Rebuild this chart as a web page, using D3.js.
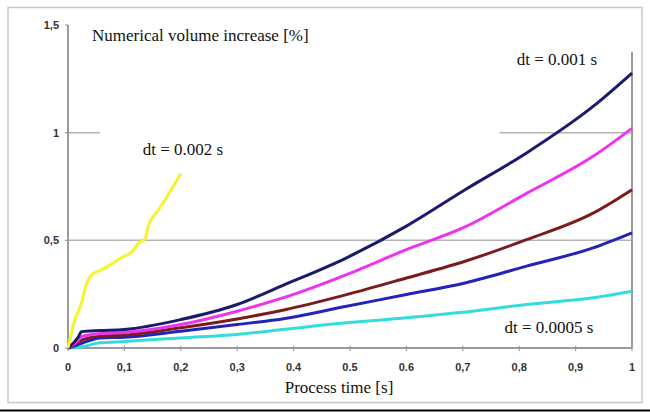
<!DOCTYPE html>
<html>
<head>
<meta charset="utf-8">
<script src="https://cdn.jsdelivr.net/npm/d3@7"></script>
<style>
  body { margin: 0; background: #fff; }
  svg { display: block; }
</style>
</head>
<body>
<div id="chart"></div>
<script>
// values (x = process time [s], y = volume increase [%])
const xTicks = [0, 0.1, 0.2, 0.3, 0.4, 0.5, 0.6, 0.7, 0.8, 0.9, 1]
const xTickLabels = ["0", "0,1", "0,2", "0,3", "0.4", "0.5", "0.6", "0,7", "0,8", "0,9", "1"]
const yTicks = [0, 0.5, 1, 1.5]
const yTickLabels = ["0", "0,5", "1", "1,5"]

const yellowX = [0, 0.012, 0.024, 0.033, 0.042, 0.057, 0.074, 0.095, 0.113, 0.125, 0.137, 0.142, 0.16, 0.175, 0.19, 0.2]
const yellowY = [0, 0.13, 0.21, 0.30, 0.34, 0.36, 0.385, 0.42, 0.447, 0.487, 0.51, 0.563, 0.64, 0.70, 0.765, 0.81]

const curveX = [0, 0.018, 0.024, 0.057, 0.1, 0.2, 0.3, 0.385, 0.494, 0.6, 0.704, 0.813, 0.931, 1]
const navyY = [0, 0.05, 0.076, 0.081, 0.086, 0.132, 0.202, 0.295, 0.419, 0.566, 0.735, 0.906, 1.122, 1.277]
const magentaY = [0, 0.035, 0.053, 0.067, 0.072, 0.109, 0.171, 0.236, 0.341, 0.457, 0.562, 0.718, 0.89, 1.02]
const brownY = [0, 0.025, 0.037, 0.055, 0.06, 0.094, 0.135, 0.178, 0.248, 0.325, 0.403, 0.503, 0.626, 0.735]
const blueY = [0, 0.016, 0.022, 0.047, 0.05, 0.078, 0.109, 0.137, 0.194, 0.248, 0.302, 0.38, 0.465, 0.535]
const cyanY = [0, 0.004, 0.006, 0.024, 0.03, 0.047, 0.063, 0.087, 0.117, 0.14, 0.167, 0.202, 0.233, 0.264]

const seriesColors = ["#1b1b6b", "#ee33ee", "#7a1c1c", "#2323b8", "#33dddd"]
const seriesValues = [navyY, magentaY, brownY, blueY, cyanY]

const width = 650, height = 412
const margin = {top: 25, right: 18, bottom: 64, left: 68}

const svg = d3.select("#chart").append("svg").attr("width", width).attr("height", height)

let x = d3.scaleLinear().domain([0, 1]).range([margin.left, width - margin.right])
let y = d3.scaleLinear().domain([0, 1.5]).range([height - margin.bottom, margin.top])

// outer frame + bottom rule
svg.append("rect").attr("x", 8).attr("y", 7.5).attr("width", 634).attr("height", 395)
    .attr("fill", "none").attr("stroke", "#c8c8c8").attr("stroke-width", 1.5)
svg.append("line").attr("x1", 0).attr("x2", width).attr("y1", 410.5).attr("y2", 410.5)
    .attr("stroke", "#000").attr("stroke-width", 2)

// grid lines (the 1-line is hidden behind the label area in the middle)
svg.append("line").attr("x1", x(0)).attr("x2", x(1)).attr("y1", y(0.5)).attr("y2", y(0.5))
    .attr("stroke", "#b4b4b4").attr("stroke-width", 1.5)
const gridOneParts = [[0, 0.057], [0.765, 1]]
svg.append("g").selectAll("line").data(gridOneParts).join("line")
    .attr("x1", d => x(d[0])).attr("x2", d => x(d[1]))
    .attr("y1", y(1)).attr("y2", y(1))
    .attr("stroke", "#b4b4b4").attr("stroke-width", 1.5)

// plot frame: left axis, bottom axis, right edge
svg.append("line").attr("x1", x(0)).attr("x2", x(0)).attr("y1", y(1.5)).attr("y2", y(0))
    .attr("stroke", "#9a9a9a").attr("stroke-width", 2)
svg.append("line").attr("x1", x(0)).attr("x2", x(1)).attr("y1", y(0)).attr("y2", y(0))
    .attr("stroke", "#9a9a9a").attr("stroke-width", 2)
svg.append("line").attr("x1", x(1)).attr("x2", x(1)).attr("y1", y(1.375)).attr("y2", y(0))
    .attr("stroke", "#9a9a9a").attr("stroke-width", 2)

// ticks
svg.append("g").selectAll("line").data(xTicks).join("line")
    .attr("x1", d => x(d)).attr("x2", d => x(d)).attr("y1", y(0) - 2).attr("y2", y(0) + 3)
    .attr("stroke", "#9a9a9a").attr("stroke-width", 1.2)
svg.append("g").selectAll("line").data(yTicks).join("line")
    .attr("x1", x(0) - 3).attr("x2", x(0)).attr("y1", d => y(d)).attr("y2", d => y(d))
    .attr("stroke", "#9a9a9a").attr("stroke-width", 1.2)

svg.append("g").selectAll("text").data(xTicks).join("text")
    .text((d, i) => xTickLabels[i])
    .attr("x", d => x(d)).attr("y", y(0) + 23)
    .attr("text-anchor", "middle")
    .attr("font-family", "Liberation Sans, Arial, sans-serif")
    .attr("font-weight", "bold").attr("font-size", 11).attr("fill", "#333")
svg.append("g").selectAll("text").data(yTicks).join("text")
    .text((d, i) => yTickLabels[i])
    .attr("x", x(0) - 9).attr("y", d => y(d) + 4)
    .attr("text-anchor", "end")
    .attr("font-family", "Liberation Sans, Arial, sans-serif")
    .attr("font-weight", "bold").attr("font-size", 11).attr("fill", "#333")

// curves
let line = d3.line().x(d => x(d[0])).y(d => y(d[1])).curve(d3.curveMonotoneX)

svg.append("g").selectAll("path").data(seriesValues.slice().reverse()).join("path")
    .attr("d", vals => line(curveX.map((t, i) => [t, vals[i]])))
    .attr("fill", "none")
    .attr("stroke", (d, i) => seriesColors.slice().reverse()[i])
    .attr("stroke-width", 3)
    .attr("stroke-linejoin", "round")

svg.append("path")
    .attr("d", line(yellowX.map((t, i) => [t, yellowY[i]])))
    .attr("fill", "none").attr("stroke", "#f5f52a").attr("stroke-width", 3)
    .attr("stroke-linejoin", "round")

// texts
const serif = "Liberation Serif, Times New Roman, serif"
function label(txt, px, py, anchor) {
    svg.append("text").text(txt).attr("x", px).attr("y", py)
        .attr("text-anchor", anchor || "start")
        .attr("font-family", serif).attr("font-size", 17).attr("fill", "#111")
}
label("Numerical volume increase [%]", 92, 41)
label("dt = 0.002 s", 183, 155, "middle")
label("dt = 0.001 s", 557, 65, "middle")
label("dt = 0.0005 s", 549, 333, "middle")
label("Process time [s]", 339, 393, "middle")
</script>
</body>
</html>
